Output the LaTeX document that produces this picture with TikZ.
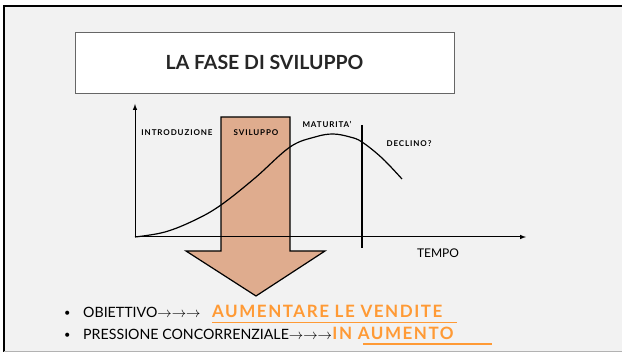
\documentclass[tikz,border=0pt]{standalone}
\usepackage{fontspec}
\setmainfont{Lato}
\usetikzlibrary{arrows,positioning}

\definecolor{slidegray}{HTML}{F2F2F2}
\definecolor{phasefill}{HTML}{DFAC8E}
\definecolor{goalorange}{HTML}{FF9A35}

\begin{document}
\begin{tikzpicture}[x=1pt,y=-1pt,
  phase label/.style={font=\fontsize{8}{9}\selectfont\bfseries\addfontfeature{LetterSpace=11}},
  bullet text/.style={anchor=base west, inner sep=0pt, font=\fontsize{14.2}{16}\selectfont},
  goal text/.style={bullet text, text=goalorange, font=\fontsize{17}{19}\selectfont\bfseries\addfontfeature{LetterSpace=9}}]
  \useasboundingbox (0,0) rectangle (622,352);
  % Slide
  \fill[white] (0,0) rectangle (622,352);
  \fill[slidegray] (3.5,6) rectangle (622,351);
  \draw[line width=2pt] (3.5,352) -- (3.5,6) -- (622,6);
  \draw[gray!60, line width=1pt] (3.5,351.5) -- (622,351.5);

  % Title
  \node[draw=gray!80!black, fill=white, line width=0.8pt, minimum width=379pt, minimum height=61pt,
        font=\fontsize{19.5}{24}\selectfont\bfseries, text=black!85] (title) at (264.5,62.5) {LA FASE DI SVILUPPO};

  % Development arrow
  \filldraw[fill=phasefill, line width=1.2pt] (221,117) -- (290,117) -- (290,251) -- (325,251)
    -- (256,296) -- (186,251) -- (221,251) -- cycle;

  % Axes
  \coordinate (origin) at (135,237);
  \coordinate (ytop) at (135,104);
  \coordinate (xend) at (526,237);
  \draw[line width=1pt, -latex] (origin) -- (ytop);
  \draw[line width=1pt, -latex] (origin) -- (xend);

  % Life cycle curve
  \draw[line width=1.2pt] plot[smooth, tension=0.6] coordinates {(135,237) (165,232) (195,220) (221,205)
    (255,178) (290,147) (315,137) (333,134) (350,137) (362,142) (382,158) (402,179)};

  % Decline limit
  \draw[line width=1.2pt] (362,125) -- (362,248);

  % Phase labels
  \node[phase label] (intro) at (177,133) {INTRODUZIONE};
  \node[phase label] (svil) at (256,133) {SVILUPPO};
  \node[phase label] (matur) at (327,124) {MATURITA'};
  \node[phase label] (decl) at (409,144) {DECLINO?};
  \node[font=\fontsize{12}{14}\selectfont] (tempo) at (438,253) {TEMPO};

  % Bullets
  \node[bullet text, font=\fontsize{11}{12}\selectfont] (dot1) at (64,317) {\textbullet};
  \node[bullet text] (obj) at (83,318) {OBIETTIVO$\rightarrow\rightarrow\rightarrow$};
  \node[goal text] (objval) at (212,318) {AUMENTARE LE VENDITE};
  \node[bullet text, font=\fontsize{11}{12}\selectfont] (dot2) at (64,339) {\textbullet};
  \node[bullet text] (press) at (83,340) {PRESSIONE CONCORRENZIALE$\rightarrow\rightarrow\rightarrow$};
  \node[goal text] (pressval) at (press.base east) {IN AUMENTO};
  \draw[goalorange, line width=1.2pt] (212,322.5) -- (457,322.5);
  \draw[goalorange, line width=1.2pt] (363,344) -- (492,344);
\end{tikzpicture}
\end{document}
